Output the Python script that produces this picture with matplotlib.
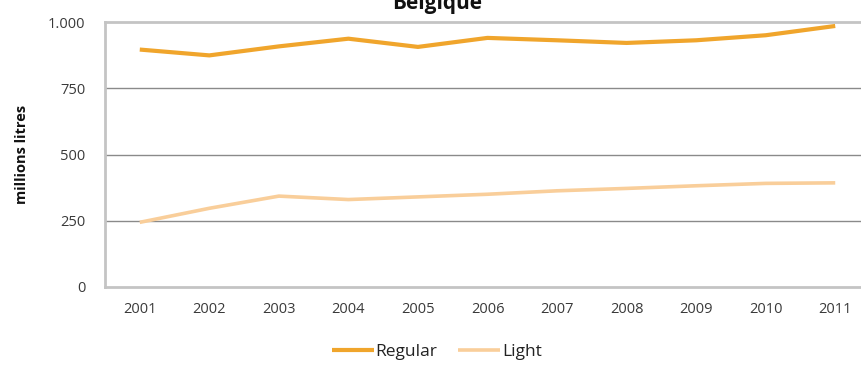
import matplotlib
matplotlib.use("Agg")
import matplotlib.pyplot as plt
from matplotlib.ticker import FuncFormatter

years = ["2001", "2002", "2003", "2004", "2005", "2006", "2007", "2008", "2009", "2010", "2011"]
regular = [896, 874, 908, 937, 906, 940, 931, 921, 931, 950, 985]
light = [244, 297, 343, 330, 340, 350, 363, 372, 382, 391, 393]
y_ticks = [0, 250, 500, 750, 1000]

plt.rcParams["font.family"] = ["Open Sans", "DejaVu Sans"]

fig = plt.figure(figsize=(8.61, 3.67), dpi=100)
ax = fig.add_axes([105 / 861, 80 / 367, 765 / 861, 265 / 367])

x = range(1, len(years) + 1)
ax.plot(x, regular, color="#F0A52C", lw=3.0, solid_capstyle="butt", label="Regular")
ax.plot(x, light, color="#F9CE9A", lw=2.6, solid_capstyle="butt", label="Light")

ax.set_xlim(0.5, len(years) + 0.5)
ax.set_ylim(0, 1000)
ax.set_xticks(list(x))
ax.set_xticklabels(years)
ax.set_yticks(y_ticks)
ax.yaxis.set_major_formatter(FuncFormatter(lambda v, p: f"{int(v):,}".replace(",", ".")))
ax.tick_params(length=0, labelsize=10.5, labelcolor="#3a3a3a")
ax.tick_params(axis="x", pad=11)
ax.tick_params(axis="y", pad=14)

for v in (250, 500, 750):
    ax.axhline(v, color="#8a8a8a", lw=1.0, zorder=0)
for name in ("left", "bottom", "top"):
    ax.spines[name].set_color("#c4c4c4")
    ax.spines[name].set_linewidth(2.0)
ax.spines["right"].set_visible(False)

ax.set_ylabel("millions litres", fontsize=10.5, fontweight="bold", color="#111111", labelpad=14)

fig.text(437 / 861, 1 - 9 / 367, "Belgique", ha="center", va="baseline",
         fontsize=15, fontweight="bold", color="#111111")

fig.legend(loc="center", bbox_to_anchor=(437 / 861, 1 - 352 / 367), ncol=2, frameon=False,
           fontsize=12.5, handlelength=2.4, handletextpad=0.1, columnspacing=1.2,
           labelcolor="#222222")

fig.savefig("out.png", dpi=100, facecolor="white")
